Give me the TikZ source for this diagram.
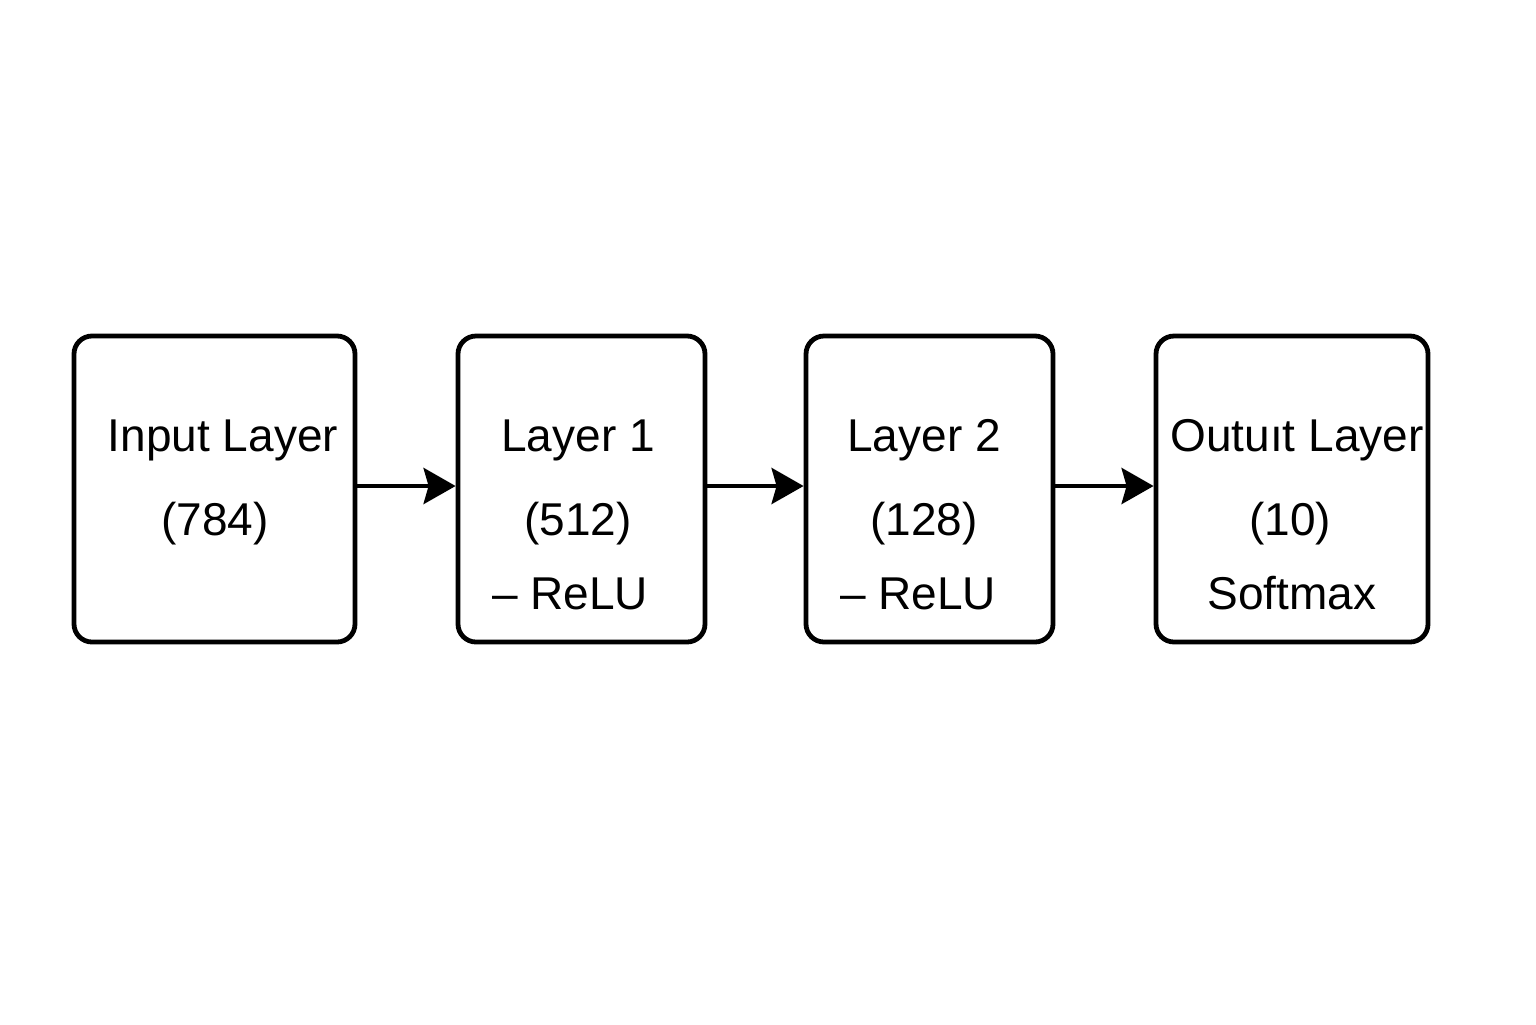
\documentclass[tikz,border=0pt]{standalone}
\usepackage{fontspec}
\setmainfont{Liberation Sans}
\usetikzlibrary{arrows.meta}
\begin{document}
\begin{tikzpicture}[x=0.5pt,y=-0.5pt,
  layerbox/.style={draw=black,line width=2.4pt,rounded corners=9pt,fill=white},
  lbl/.style={font=\fontsize{23}{27}\selectfont,inner sep=0pt,anchor=base},
  conn/.style={line width=2.3pt,-{Stealth[length=16pt,width=18pt,inset=2.5pt]},shorten >=0.5pt}]
\useasboundingbox (0,0) rectangle (1536,1024);
\fill[white] (0,0) rectangle (1536,1024);
\draw[layerbox] (74,336) rectangle (355,642);
\draw[layerbox] (458,336) rectangle (705,642);
\draw[layerbox] (806,336) rectangle (1053,642);
\draw[layerbox] (1156,336) rectangle (1428,642);
\node[inner sep=0pt,minimum size=0pt] (b1) at (355,486) {};
\node[inner sep=0pt,minimum size=0pt] (b2l) at (457,486) {};
\node[inner sep=0pt,minimum size=0pt] (b2r) at (705,486) {};
\node[inner sep=0pt,minimum size=0pt] (b3l) at (805,486) {};
\node[inner sep=0pt,minimum size=0pt] (b3r) at (1053,486) {};
\node[inner sep=0pt,minimum size=0pt] (b4l) at (1155,486) {};
\draw[conn] (b1) -- (b2l);
\draw[conn] (b2r) -- (b3l);
\draw[conn] (b3r) -- (b4l);
\node[lbl] (t1a) at (223,451) {Input Layer};
\node[lbl] (t1b) at (215,535) {(784)};
\node[lbl] (t2a) at (578,451) {Layer 1};
\node[lbl] (t2b) at (578,535) {(512)};
\node[lbl] (t2c) at (570,609) {– ReLU};
\node[lbl] (t3a) at (924,451) {Layer 2};
\node[lbl] (t3b) at (924,535) {(128)};
\node[lbl] (t3c) at (918,609) {– ReLU};
\node[lbl] (t4a) at (1297,451) {Outuıt Layer};
\node[lbl] (t4b) at (1290,535) {(10)};
\node[lbl] (t4c) at (1292,609) {Softmax};
\end{tikzpicture}
\end{document}
